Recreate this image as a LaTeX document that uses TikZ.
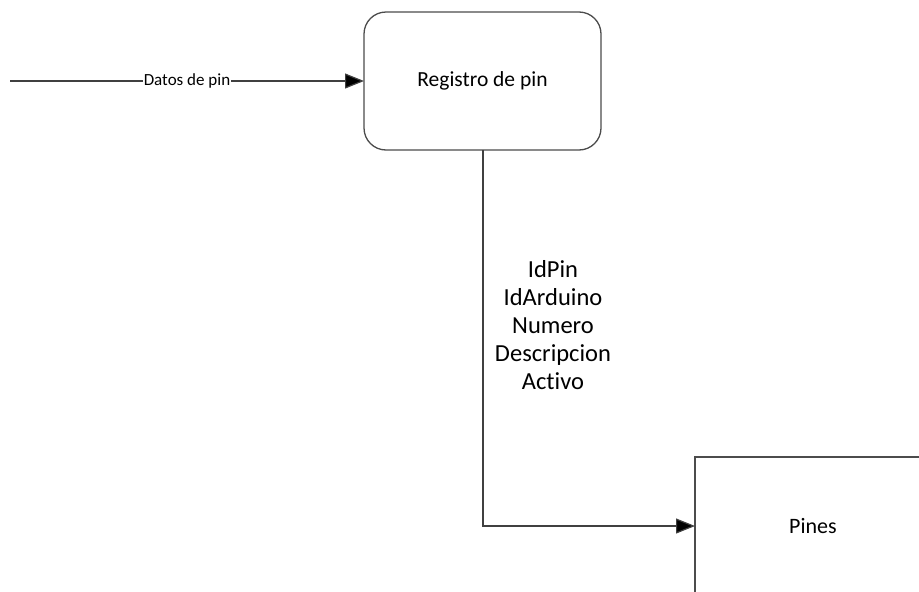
\documentclass[tikz,border=0pt]{standalone}
\usepackage{fontspec}
\setmainfont[Ligatures=NoCommon]{Carlito}
\usetikzlibrary{arrows.meta}
\begin{document}
\begin{tikzpicture}[x=1pt,y=-1pt,
  flow/.style={draw=black!75, line width=1.2pt, -{Triangle[length=19pt,width=15pt,fill=black]}},
  process/.style={draw=black!70, line width=1.3pt, rounded corners=22pt},
  store/.style={draw=black!70, line width=1.3pt}]
\useasboundingbox (0,0) rectangle (919,592);
% process box
\draw[process] (364,12) rectangle (601,150);
\node[font=\fontsize{21.5}{25}\selectfont] (reg) at (482.5,81) {Registro de pin};
\coordinate (regW) at (364,81);
\coordinate (regS) at (483,150);
% data store (open to the right and bottom)
\draw[store] (919,457) -- (695,457) -- (695,592);
\node[font=\fontsize{22}{25}\selectfont] (pines) at (813,526) {Pines};
\coordinate (pinesW) at (695,526);
% incoming flow
\coordinate (src) at (10,81);
\draw[flow] (src) -- (regW);
\node[fill=white, inner sep=1pt, font=\fontsize{17}{20}\selectfont] (datos) at (187,81) {Datos de pin};
% outgoing flow
\draw[flow] (regS) |- (pinesW);
\node[align=center, font=\fontsize{24.5}{28}\selectfont] (attrs) at (553,325)
  {IdPin\\IdArduino\\Numero\\Descripcion\\Activo};
\end{tikzpicture}
\end{document}
